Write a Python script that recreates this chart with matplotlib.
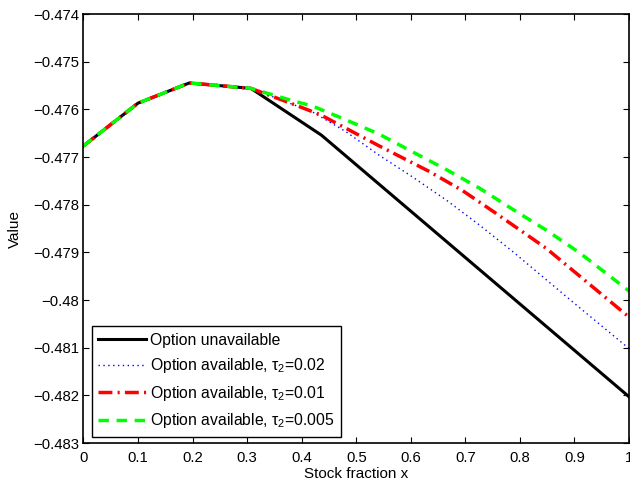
import matplotlib
matplotlib.use("Agg")
import matplotlib.pyplot as plt

plt.rcParams['font.family'] = ['Liberation Sans', 'DejaVu Sans']
plt.rcParams['mathtext.fontset'] = 'custom'
plt.rcParams['mathtext.rm'] = 'Liberation Sans'
plt.rcParams['mathtext.it'] = 'Liberation Sans'

# Data
x_unavail = [0, 0.1, 0.194, 0.307, 0.436, 1.0]
y_unavail = [-0.476766, -0.475868, -0.475445, -0.475559, -0.476539, -0.482030]

x_t002 = [0, 0.1, 0.194, 0.307, 0.42, 0.481, 0.542, 0.603, 0.665, 0.726, 0.787, 0.903, 1.0]
y_t002 = [-0.476766, -0.475868, -0.475445, -0.475559, -0.476054, -0.476467, -0.476962, -0.477416,
          -0.477902, -0.478428, -0.478985, -0.480100, -0.481019]

x_t001 = [0, 0.1, 0.194, 0.307, 0.389, 0.435, 0.481, 0.542, 0.634, 0.695, 0.756, 0.848, 1.0]
y_t001 = [-0.476766, -0.475868, -0.475445, -0.475559, -0.475910, -0.476116, -0.476395, -0.476766,
          -0.477303, -0.477705, -0.478180, -0.478913, -0.480358]

x_t0005 = [0, 0.1, 0.194, 0.307, 0.383, 0.42, 0.481, 0.542, 0.603, 0.665, 0.726, 0.787, 0.848, 0.909, 1.0]
y_t0005 = [-0.476766, -0.475868, -0.475445, -0.475559, -0.475817, -0.475930, -0.476219, -0.476519,
           -0.476890, -0.477262, -0.477654, -0.478098, -0.478531, -0.479006, -0.479811]

labels = ['Option unavailable',
          r'Option available, $\tau_2$=0.02',
          r'Option available, $\tau_2$=0.01',
          r'Option available, $\tau_2$=0.005']

xticks = [0, 0.1, 0.2, 0.3, 0.4, 0.5, 0.6, 0.7, 0.8, 0.9, 1]
xticklabels = ['0', '0.1', '0.2', '0.3', '0.4', '0.5', '0.6', '0.7', '0.8', '0.9', '1']
yticks = [-0.474, -0.475, -0.476, -0.477, -0.478, -0.479, -0.48, -0.481, -0.482, -0.483]
yticklabels = ['\u22120.474', '\u22120.475', '\u22120.476', '\u22120.477', '\u22120.478',
               '\u22120.479', '\u22120.48', '\u22120.481', '\u22120.482', '\u22120.483']

fig = plt.figure(figsize=(6.30, 4.83), dpi=100)
ax = fig.add_axes([0.1325, 0.0828, 0.866, 0.888])

ax.plot(x_unavail, y_unavail, color='black', lw=2.2, label=labels[0])
ax.plot(x_t002, y_t002, color='blue', lw=1.0, linestyle=(0, (1, 2.5)), label=labels[1])
ax.plot(x_t001, y_t001, color='red', lw=2.5, linestyle=(0, (4, 1.5, 0.6, 1.5)), label=labels[2])
ax.plot(x_t0005, y_t0005, color='#00ff00', lw=2.5, linestyle=(0, (3, 2.2)), label=labels[3])

ax.set_xlim(0, 1)
ax.set_ylim(-0.483, -0.474)
ax.set_xticks(xticks)
ax.set_xticklabels(xticklabels)
ax.set_yticks(yticks)
ax.set_yticklabels(yticklabels)
ax.tick_params(direction='in', top=True, right=True, labelsize=10.7, length=4, pad=3)
ax.tick_params(axis='x', pad=6)
for s in ax.spines.values():
    s.set_linewidth(1.2)

ax.set_xlabel('Stock fraction x', fontsize=11, labelpad=1)
ax.set_ylabel('Value', fontsize=11, labelpad=8)

leg = ax.legend(loc='lower left', bbox_to_anchor=(0.016, 0.0147), fontsize=11.3,
                handlelength=3.0, fancybox=False, edgecolor='black', framealpha=1,
                borderaxespad=0, borderpad=0.4, labelspacing=0.55, handletextpad=0.3)
leg.get_frame().set_linewidth(1.0)

fig.savefig('out.png', dpi=100)
